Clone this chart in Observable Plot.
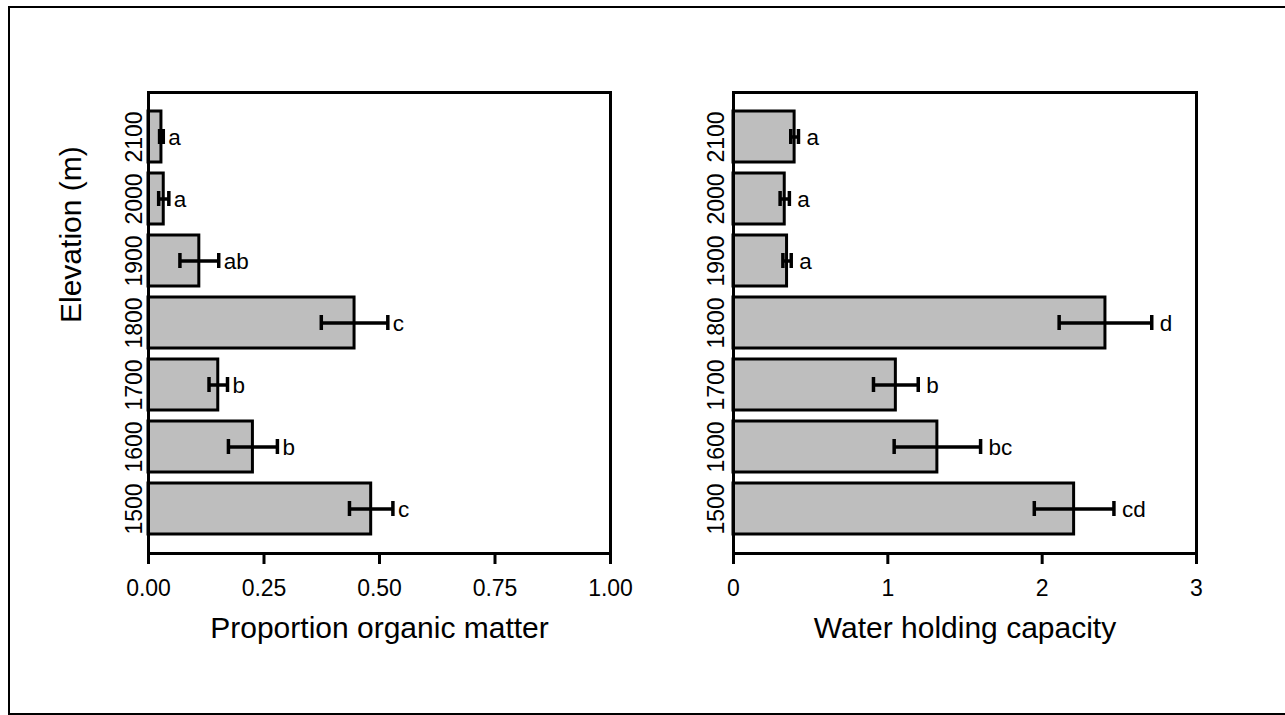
<!DOCTYPE html>
<html>
<head>
<meta charset="utf-8">
<script src="https://cdn.jsdelivr.net/npm/d3@7"></script>
<script src="https://cdn.jsdelivr.net/npm/@observablehq/plot@0.6"></script>
<style>
  html, body { margin: 0; padding: 0; background: #fff; }
  #wrap { position: relative; width: 1285px; height: 715px; overflow: hidden; background: #fff; }
  #border { position: absolute; left: 8px; top: 6px; width: 1320px; height: 708.5px; border: 2.5px solid #000; box-sizing: border-box; }
  #left { position: absolute; left: 0; top: 0; }
  #right { position: absolute; left: 660px; top: 0; }
</style>
</head>
<body>
<div id="wrap">
  <div id="border"></div>
  <div id="left"></div>
  <div id="right"></div>
</div>
<script>
// ---- data ----
const elevations = ["2100", "2000", "1900", "1800", "1700", "1600", "1500"];

const organicMean = [0.028, 0.033, 0.110, 0.446, 0.151, 0.226, 0.482];
const organicSE   = [0.004, 0.011, 0.042, 0.072, 0.020, 0.053, 0.047];
const organicLetters = ["a", "a", "ab", "c", "b", "b", "c"];
const organicTicks = [0, 0.25, 0.5, 0.75, 1];

const waterMean = [0.396, 0.332, 0.347, 2.41, 1.052, 1.321, 2.207];
const waterSE   = [0.025, 0.030, 0.027, 0.300, 0.145, 0.280, 0.258];
const waterLetters = ["a", "a", "a", "d", "b", "bc", "cd"];
const waterTicks = [0, 1, 2, 3];

const FONT = "'Liberation Sans', Arial, Helvetica, sans-serif";

function panel({mean, se, letters, domain, ticks, tickFormat, title, width, marginLeft, marginRight, tickPadY, labelDx, yTitle}) {
  const data = elevations.map((e, i) => ({
    elev: e, v: mean[i], lo: mean[i] - se[i], hi: mean[i] + se[i], letter: letters[i]
  }));
  const marks = [
    Plot.barX(data, {x: "v", y: "elev", fill: "#bebebe", stroke: "#000", strokeWidth: 3}),
    Plot.ruleY(data, {y: "elev", x1: "lo", x2: "hi", stroke: "#000", strokeWidth: 3.5}),
    Plot.tickX(data, {x: "lo", y: "elev", insetTop: 18, insetBottom: 18, stroke: "#000", strokeWidth: 3.5}),
    Plot.tickX(data, {x: "hi", y: "elev", insetTop: 18, insetBottom: 18, stroke: "#000", strokeWidth: 3.5}),
    Plot.text(data, {x: "hi", y: "elev", text: "letter", textAnchor: "start", dx: labelDx, dy: 1, fontSize: 22.5, fill: "#000"}),
    Plot.frame({stroke: "#000", strokeWidth: 3}),
    Plot.axisX({ticks, tickFormat, tickSize: 11, tickPadding: 15, stroke: "#000", strokeWidth: 3, fontSize: 23, label: null}),
    Plot.axisY({tickSize: 0, tickRotate: -90, tickPadding: tickPadY, fontSize: 23, label: null}),
    Plot.text([title], {text: d => d, frameAnchor: "bottom", dy: 84, lineAnchor: "bottom", fontSize: 30, fill: "#000"})
  ];
  if (yTitle) {
    marks.push(Plot.text([yTitle], {text: d => d, frameAnchor: "left", dx: -68, rotate: -90, lineAnchor: "bottom", fontSize: 30, fill: "#000"}));
  }
  return Plot.plot({
    width, height: 715,
    marginLeft, marginRight, marginTop: 92, marginBottom: 162,
    style: {fontFamily: FONT, background: "transparent", color: "#000", overflow: "visible"},
    x: {domain},
    y: {domain: elevations, paddingInner: 0.17, paddingOuter: 0.26},
    marks
  });
}

document.getElementById("left").appendChild(panel({
  mean: organicMean, se: organicSE, letters: organicLetters,
  domain: [0, 1], ticks: organicTicks, tickFormat: d3.format(".2f"),
  title: "Proportion organic matter",
  width: 660, marginLeft: 148, marginRight: 50, tickPadY: 7, labelDx: 5,
  yTitle: "Elevation (m)"
}));

document.getElementById("right").appendChild(panel({
  mean: waterMean, se: waterSE, letters: waterLetters,
  domain: [0, 3], ticks: waterTicks, tickFormat: d3.format("d"),
  title: "Water holding capacity",
  width: 625, marginLeft: 73, marginRight: 89, tickPadY: 10, labelDx: 8,
  yTitle: null
}));
</script>
</body>
</html>
